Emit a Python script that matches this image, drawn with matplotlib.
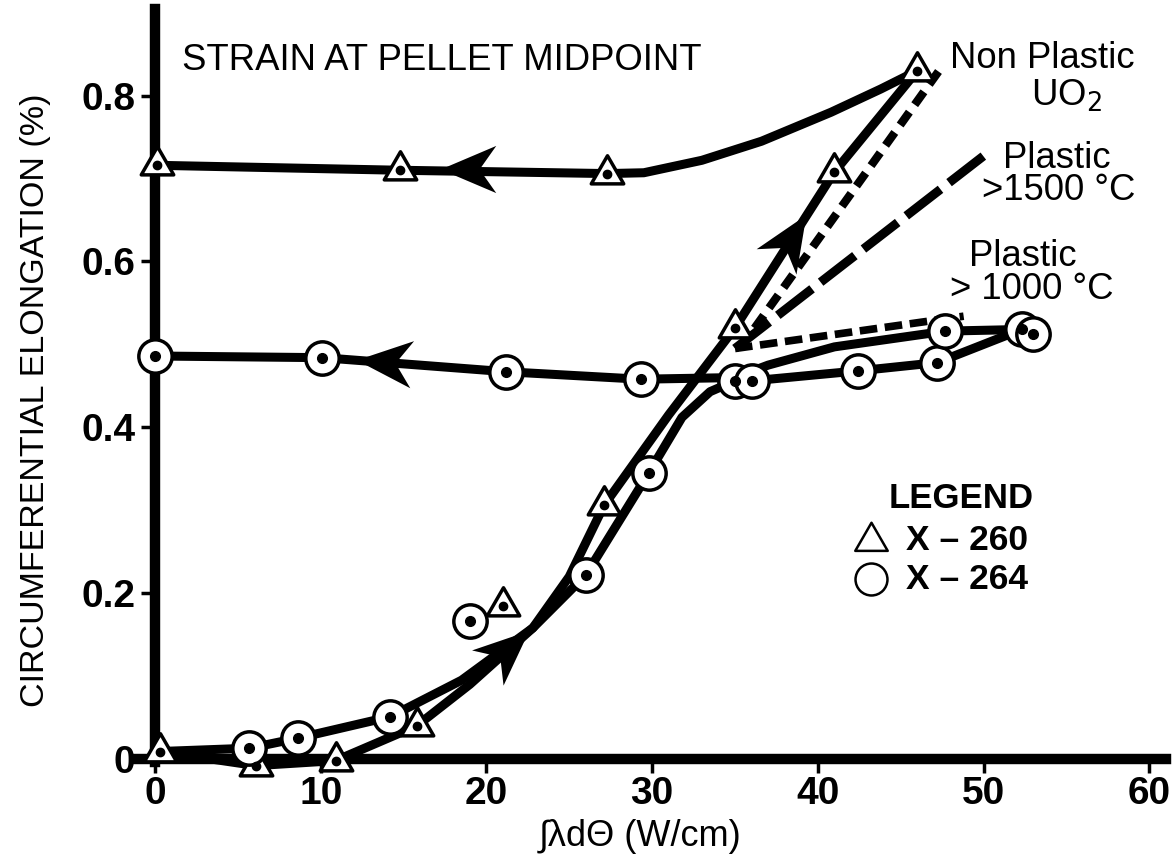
import numpy as np
import matplotlib
matplotlib.use("Agg")
import matplotlib.pyplot as plt
from matplotlib.path import Path
from matplotlib.markers import MarkerStyle
from matplotlib.transforms import Affine2D

plt.rcParams["font.family"] = ["Liberation Sans", "DejaVu Sans"]

# ---------------------------------------------------------------------------
# Dane
# ---------------------------------------------------------------------------
# X-260 (trojkaty) - punkty pomiarowe
x260_x = [0.3, 6.1, 10.9, 15.8, 21.0, 27.1, 35.0, 41.0, 46.0, 27.3, 14.8, 0.1]
x260_y = [0.009, -0.008, -0.002, 0.040, 0.185, 0.306, 0.520, 0.708, 0.830, 0.706, 0.710, 0.716]
# X-264 (kolka) - punkty pomiarowe
x264_x = [5.7, 8.6, 14.2, 19.0, 26.0, 29.8, 35.0, 36.0, 42.4, 47.2, 47.7, 52.3, 53.0, 29.3, 21.2, 10.1, 0.0]
x264_y = [0.013, 0.025, 0.051, 0.166, 0.222, 0.345, 0.456, 0.456, 0.468, 0.478, 0.516, 0.518, 0.512, 0.458, 0.467, 0.484, 0.486]

# krzywe (nagrzewanie / chlodzenie)
x260_up_x = [0.3, 6.1, 10.9, 15.8, 19.0, 22.8, 25.0, 27.1, 31.0, 35.0, 41.0, 46.0]
x260_up_y = [0.009, -0.008, -0.002, 0.040, 0.090, 0.158, 0.220, 0.306, 0.415, 0.520, 0.708, 0.830]
x260_down_x = [46.0, 43.8, 40.8, 36.6, 33.0, 29.5, 27.3, 14.8, 0.1]
x260_down_y = [0.830, 0.808, 0.780, 0.745, 0.722, 0.707, 0.706, 0.710, 0.716]
x264_up_x = [0.3, 5.7, 8.6, 14.2, 18.5, 22.8, 26.0, 29.8, 31.8, 33.5, 35.0, 36.0, 42.4, 47.2, 52.3]
x264_up_y = [0.009, 0.013, 0.025, 0.051, 0.095, 0.158, 0.222, 0.345, 0.412, 0.443, 0.456, 0.456, 0.468, 0.478, 0.518]
x264_down_x = [52.3, 47.7, 41.0, 37.0, 35.0, 29.3, 21.2, 10.1, 0.0]
x264_down_y = [0.518, 0.516, 0.497, 0.475, 0.460, 0.458, 0.467, 0.484, 0.486]

# przewidywania modelu (linie przerywane)
nonplastic_x = [35.3, 47.6]
nonplastic_y = [0.495, 0.838]
plastic1500_x = [35.0, 50.5]
plastic1500_y = [0.495, 0.735]
plastic1000_x = [35.0, 48.8]
plastic1000_y = [0.495, 0.534]

x_ticks = [0, 10, 20, 30, 40, 50, 60]
y_ticks = [0, 0.2, 0.4, 0.6, 0.8]
y_ticklabels = ["0", "0.2", "0.4", "0.6", "0.8"]

# ---------------------------------------------------------------------------
# Wykres
# ---------------------------------------------------------------------------
fig = plt.figure(figsize=(11.75, 8.57), dpi=100)
ax = fig.add_axes([0.1150, 0.0660, 0.8800, 0.9240])
ax.set_xlim(-1.2, 61.2)
ax.set_ylim(-0.05, 0.905)

for s in ("top", "right"):
    ax.spines[s].set_visible(False)
ax.spines["left"].set_position(("data", 0))
ax.spines["bottom"].set_position(("data", 0))
ax.spines["left"].set_bounds(-0.004, 0.905)
ax.spines["bottom"].set_bounds(-1.1, 61.0)
ax.spines["left"].set_linewidth(7.5)
ax.spines["bottom"].set_linewidth(7.5)

ax.set_xticks(x_ticks)
ax.set_yticks(y_ticks)
ax.set_yticklabels(y_ticklabels)
ax.tick_params(direction="out", length=10, width=2.5, labelsize=28, pad=2)
ax.tick_params(axis="y", pad=4)
for lab in ax.get_xticklabels() + ax.get_yticklabels():
    lab.set_fontweight("bold")

LW = 6.5
kw = dict(color="black", lw=LW, solid_capstyle="butt", solid_joinstyle="round", zorder=3)
ax.plot(x260_up_x, x260_up_y, **kw)
ax.plot(x260_down_x, x260_down_y, **kw)
ax.plot(x264_up_x, x264_up_y, **kw)
ax.plot(x264_down_x, x264_down_y, **kw)

dkw = dict(color="black", dash_capstyle="butt", zorder=2)
ax.plot(nonplastic_x, nonplastic_y, lw=6, linestyle=(0, (1.9, 1.1)), **dkw)
ax.plot(plastic1500_x, plastic1500_y, lw=6.5, linestyle=(0, (4.8, 1.2)), **dkw)
ax.plot(plastic1000_x, plastic1000_y, lw=5.5, linestyle=(0, (2.3, 1.0)), **dkw)

# markery
tri = Path([(0, 1), (-0.866, -0.5), (0.866, -0.5), (0, 1)],
           [Path.MOVETO, Path.LINETO, Path.LINETO, Path.CLOSEPOLY])
ax.plot(x260_x, x260_y, linestyle="none", marker=tri, ms=27, mfc="white",
        mec="black", mew=2.5, zorder=6)
ax.plot(x260_x, x260_y, linestyle="none", marker="o", ms=6, color="black", zorder=7)
ax.plot(x264_x, x264_y, linestyle="none", marker="o", ms=24, mfc="white",
        mec="black", mew=2.5, zorder=6)
ax.plot(x264_x, x264_y, linestyle="none", marker="o", ms=7, color="black", zorder=7)

# groty strzalek
head = Path([(1, 0), (-1, 0.85), (-0.4, 0), (-1, -0.85), (1, 0)],
            [Path.MOVETO, Path.LINETO, Path.LINETO, Path.LINETO, Path.CLOSEPOLY])


def arrow(x, y, dx, dy, size=40):
    p0 = ax.transData.transform((x, y))
    p1 = ax.transData.transform((x + dx, y + dy))
    ang = np.degrees(np.arctan2(p1[1] - p0[1], p1[0] - p0[0]))
    m = MarkerStyle(head, transform=Affine2D().rotate_deg(ang))
    ax.plot([x], [y], linestyle="none", marker=m, ms=size, color="black",
            mew=0, zorder=5)


arrow(18.9, 0.711, -1, 0.0)
arrow(13.8, 0.479, -1.0, 0.0016)
arrow(21.3, 0.133, 3.8, 0.068)
arrow(38.4, 0.628, 6.0, 0.188)

# teksty
ax.text(1.6, 0.842, "STRAIN AT PELLET MIDPOINT", fontsize=26.3, va="center", ha="left")
ax.text(48.0, 0.845, "Non Plastic", fontsize=26.3, va="center", ha="left")
ax.text(55.0, 0.800, "UO$_2$", fontsize=26.3, va="center", ha="center")
ax.text(51.2, 0.724, "Plastic", fontsize=26.3, va="center", ha="left")
ax.text(49.9, 0.686, ">1500 °C", fontsize=26.3, va="center", ha="left")
ax.text(49.1, 0.606, "Plastic", fontsize=26.3, va="center", ha="left")
ax.text(48.0, 0.566, "> 1000 °C", fontsize=26.3, va="center", ha="left")

ax.text(44.3, 0.314, "LEGEND", fontsize=25, fontweight="bold", va="center", ha="left")
ax.plot([43.2], [0.263], linestyle="none", marker=tri, ms=27, mfc="none",
        mec="black", mew=1.8)
ax.plot([43.2], [0.217], linestyle="none", marker="o", ms=23, mfc="none",
        mec="black", mew=1.8)
ax.text(45.3, 0.263, "X – 260", fontsize=25.5, fontweight="bold", va="center", ha="left")
ax.text(45.3, 0.217, "X – 264", fontsize=25.5, fontweight="bold", va="center", ha="left")

fig.text(0.0298, 1 - 400 / 857, "CIRCUMFERENTIAL ELONGATION (%)", rotation=90,
         fontsize=24.5, va="center", ha="center")
fig.text(640 / 1175, 1 - 836 / 857, "∫λdΘ (W/cm)", fontsize=26,
         va="center", ha="center")

fig.savefig("out.png", dpi=100)
